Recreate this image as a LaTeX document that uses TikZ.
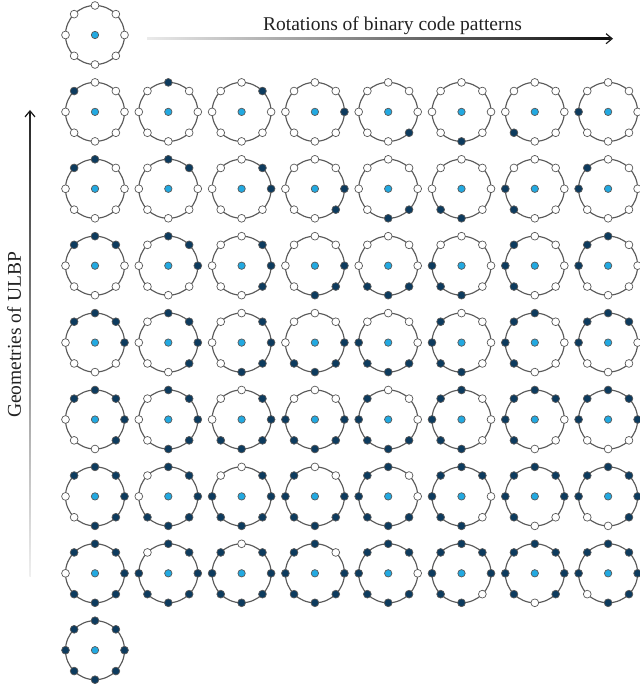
\documentclass[tikz,border=0pt]{standalone}
\usepackage{fontspec}
\setmainfont{Liberation Serif}
\usetikzlibrary{calc,arrows.meta}
\definecolor{ondot}{HTML}{0D3B5E}
\definecolor{ctrdot}{HTML}{22A9E1}
\definecolor{ringc}{HTML}{5A5A5A}
\definecolor{txtc}{HTML}{222222}
\tikzset{
  ring/.style={circle,draw=ringc,line width=1.15bp,inner sep=0pt,minimum size=59bp},
  dotb/.style={circle,draw=black!65,line width=0.7bp,inner sep=0pt,minimum size=7.8bp},
  offdot/.style={dotb,fill=white},
  ondotst/.style={dotb,fill=ondot},
  ctr/.style={dotb,fill=ctrdot,minimum size=7.4bp},
  lbl/.style={text=txtc,font=\fontsize{19.5bp}{23bp}\selectfont,inner sep=0pt},
  tipst/.style={draw=black!90,line width=1.2bp,-{Straight Barb[length=6bp,width=10bp,line width=1.2bp]}}
}
\begin{document}
\begin{tikzpicture}[x=1bp,y=1bp]
\useasboundingbox (0,0) rectangle (640,684);
% axes
\coordinate (hA) at (147,645.3);
\coordinate (hB) at (613,645.3);
\coordinate (vA) at (30,107);
\coordinate (vB) at (30,574);
\shade[left color=black!8,middle color=black!72,right color=black!95]
  ($(hA)+(0,0.75)$) rectangle ($(hB)+(-3,-0.75)$);
\draw[tipst] ($(hB)+(-6,0)$) -- (hB);
\shade[bottom color=black!6,middle color=black!65,top color=black!85]
  ($(vA)+(-0.75,0)$) rectangle ($(vB)+(0.75,-3)$);
\draw[tipst] ($(vB)+(0,-6)$) -- (vB);
\node[lbl,anchor=base] (ttop) at (392.5,653.3) {Rotations of binary code patterns};
\node[lbl,rotate=90] (tleft) at (14,349) {Geometries of ULBP};
% patterns
\foreach \r in {0,...,8}{
  \foreach \c in {1,...,8}{
    \pgfmathtruncatemacro{\shw}{((\r>0)&&(\r<8))||(\c==1)}
    \ifnum\shw=1
      \node[ring] (g-\r-\c) at ({95+(\c-1)*73.3},{649-\r*76.9}) {};
      \node[ctr] (m-\r-\c) at (g-\r-\c.center) {};
      \foreach \p in {0,...,7}{
        \pgfmathtruncatemacro{\k}{mod(\p-\c+1+16,8)}
        \ifnum\k<\r
          \node[ondotst] (d-\r-\c-\p) at ($(g-\r-\c.center)+({135-45*\p}:29.5)$) {};
        \else
          \node[offdot] (d-\r-\c-\p) at ($(g-\r-\c.center)+({135-45*\p}:29.5)$) {};
        \fi
      }
    \fi
  }
}
\end{tikzpicture}
\end{document}
